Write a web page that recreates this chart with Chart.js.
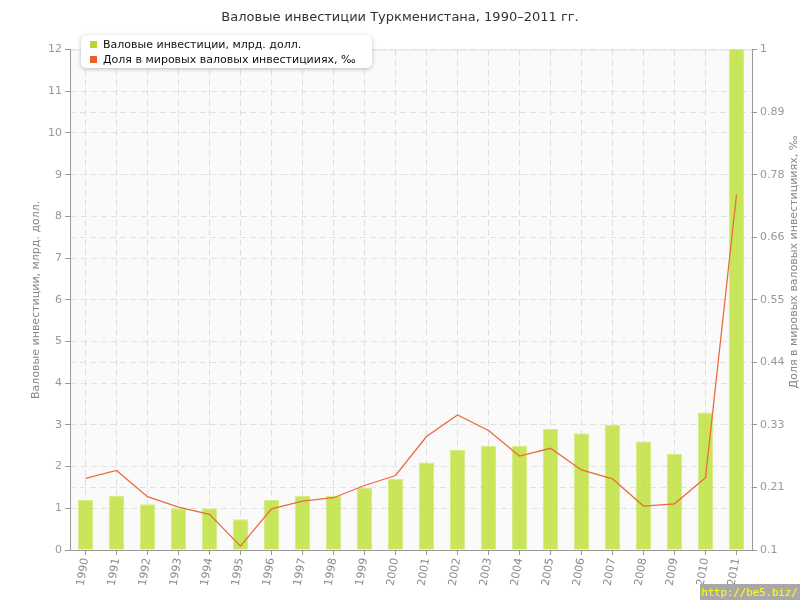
<!DOCTYPE html>
<html>
<head>
<meta charset="utf-8">
<script src="https://cdn.jsdelivr.net/npm/chart.js@4"></script>
<style>
  body { margin: 0; background: #fff; }
  #wrap { position: relative; width: 800px; height: 600px; }
  #legend {
    position: absolute; left: 81px; top: 35px; width: 291px; height: 33px;
    background: #fff; border-radius: 5px; box-shadow: 0 1px 4px rgba(0,0,0,0.25);
    font: 11px "DejaVu Sans", sans-serif; color: #111;
  }
  #legend div { position: absolute; left: 22px; white-space: nowrap; }
  #legend span { position: absolute; left: -13px; top: 3px; width: 7px; height: 7px; }
  #mark {
    position: absolute; right: 0; bottom: 0; width: 100px; height: 16px;
    background: #a8a8a8; color: #ffff00; font: 11px "DejaVu Sans Mono", monospace;
    line-height: 17px; padding-left: 1px; box-sizing: border-box; white-space: nowrap;
    letter-spacing: -0.2px; overflow: hidden;
  }
</style>
</head>
<body>
<div id="wrap">
  <canvas id="chart" width="800" height="600"></canvas>
  <div id="legend">
    <div style="top:3px"><span style="background:#b5d930"></span>Валовые инвестиции, млрд. долл.</div>
    <div style="top:18px"><span style="background:#e8632e"></span>Доля в мировых валовых инвестицииях, ‰</div>
  </div>
  <div id="mark">http://be5.biz/</div>
</div>
<script>
const years = ["1990", "1991", "1992", "1993", "1994", "1995", "1996", "1997", "1998", "1999", "2000",
  "2001", "2002", "2003", "2004", "2005", "2006", "2007", "2008", "2009", "2010", "2011"];
const investments = [1.2, 1.3, 1.1, 1.0, 1.0, 0.74, 1.2, 1.3, 1.3, 1.5, 1.7,
  2.1, 2.4, 2.5, 2.5, 2.9, 2.8, 3.0, 2.6, 2.3, 3.3, 13.5];
const worldShare = [0.229, 0.243, 0.196, 0.177, 0.164, 0.107, 0.174, 0.188, 0.194, 0.216, 0.234,
  0.304, 0.343, 0.315, 0.269, 0.283, 0.244, 0.228, 0.179, 0.183, 0.230, 0.739];
const shareTickValues = [0.1, 0.2125, 0.325, 0.4375, 0.55, 0.6625, 0.775, 0.8875, 1];
const shareTickLabels = ["0.1", "0.21", "0.33", "0.44", "0.55", "0.66", "0.78", "0.89", "1"];
const rightTitle = "Доля в мировых валовых инвестицииях, ‰";

const tickFont = { family: "'DejaVu Sans', sans-serif", size: 11 };

const plotBackground = {
  id: "plotBackground",
  beforeDraw(chart) {
    const { ctx, chartArea } = chart;
    ctx.save();
    ctx.fillStyle = "#fafafa";
    ctx.fillRect(chartArea.left, chartArea.top, chartArea.right - chartArea.left, chartArea.bottom - chartArea.top);
    ctx.strokeStyle = "#e2e2e2";
    ctx.lineWidth = 1;
    ctx.beginPath();
    ctx.moveTo(chartArea.left, chartArea.top + 0.5);
    ctx.lineTo(chartArea.right, chartArea.top + 0.5);
    ctx.stroke();
    ctx.restore();
  },
  // right axis title reads bottom-to-top, like the left one
  afterDraw(chart) {
    const { ctx } = chart;
    ctx.save();
    ctx.translate(794, 262);
    ctx.rotate(-Math.PI / 2);
    ctx.fillStyle = "#888";
    ctx.font = "11px 'DejaVu Sans', sans-serif";
    ctx.textAlign = "center";
    ctx.textBaseline = "middle";
    ctx.fillText(rightTitle, 0, 0);
    ctx.restore();
  },
};

const ctx = document.getElementById("chart").getContext("2d");
new Chart(ctx, {
  data: {
    labels: years,
    datasets: [
      {
        type: "line",
        label: rightTitle,
        data: worldShare,
        yAxisID: "y1",
        borderColor: "#e86c3c",
        borderWidth: 1.3,
        pointRadius: 0,
        tension: 0,
        order: 0,
      },
      {
        type: "bar",
        label: "Валовые инвестиции, млрд. долл.",
        data: investments,
        yAxisID: "y",
        backgroundColor: "rgba(190, 224, 55, 0.82)",
        borderColor: "rgba(210, 234, 120, 0.9)",
        borderWidth: 1,
        barPercentage: 0.5,
        categoryPercentage: 1,
        order: 1,
      },
    ],
  },
  options: {
    responsive: false,
    animation: false,
    layout: { padding: 0 },
    plugins: {
      legend: { display: false },
      tooltip: { enabled: false },
      title: {
        display: true,
        text: "Валовые инвестиции Туркменистана, 1990–2011 гг.",
        color: "#333",
        font: { family: "'DejaVu Sans', sans-serif", size: 13, weight: "normal" },
        padding: { top: 10, bottom: 24 },
      },
    },
    scales: {
      x: {
        offset: true,
        grid: {
          offset: false,
          color: "#dedede",
          tickColor: "#999",
          tickLength: 5,
          tickBorderDash: [],
        },
        border: { color: "#999", dash: [6, 4] },
        ticks: { color: "#888", font: tickFont, minRotation: 80, maxRotation: 80, padding: 2 },
        afterFit(scale) { scale.height = 50; },
      },
      y: {
        position: "left",
        min: 0,
        max: 12,
        ticks: { stepSize: 1, color: "#999", font: tickFont, padding: 3 },
        grid: { color: "#e2e2e2", tickColor: "#999", tickLength: 5, tickBorderDash: [] },
        border: { color: "#999", dash: [6, 4] },
        title: {
          display: true,
          text: "Валовые инвестиции, млрд. долл.",
          color: "#888",
          font: tickFont,
          padding: { top: 30, bottom: 0 },
        },
        afterFit(scale) { scale.width = 70; },
      },
      y1: {
        position: "right",
        min: 0.1,
        max: 1,
        afterBuildTicks(scale) {
          scale.ticks = shareTickValues.map(v => ({ value: v }));
        },
        ticks: {
          color: "#999",
          font: tickFont,
          padding: 3,
          callback: (value, index) => shareTickLabels[index],
        },
        grid: { color: "#e2e2e2", tickColor: "#999", tickLength: 5, tickBorderDash: [] },
        border: { color: "#999", dash: [6, 4] },
        afterFit(scale) { scale.width = 48; },
      },
    },
  },
  plugins: [plotBackground],
});
</script>
</body>
</html>
